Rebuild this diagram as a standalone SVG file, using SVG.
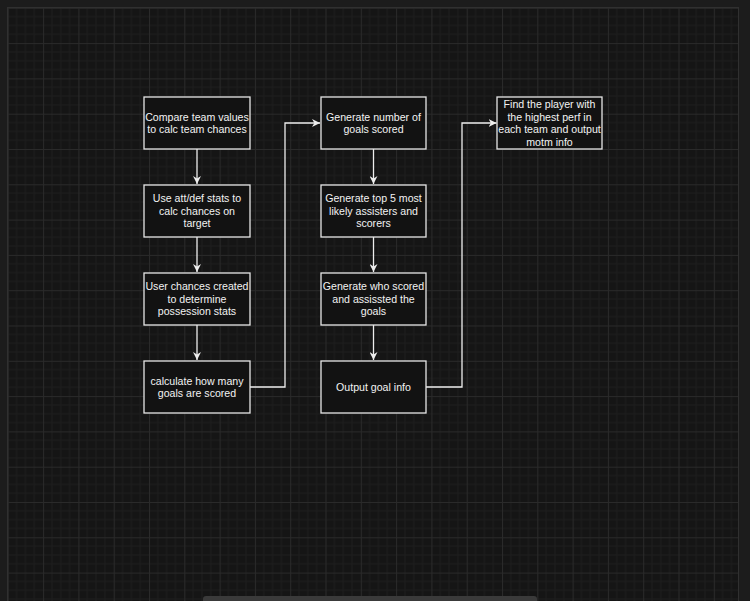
<svg xmlns="http://www.w3.org/2000/svg" width="750" height="601" viewBox="0 0 750 601">
  <style>
    .box { fill: #121212; stroke: #e6e6e6; stroke-width: 1.3; }
    .lbl { font-family: "Liberation Sans", Arial, Helvetica, sans-serif; font-size: 10.6px; fill: #f2f2f2; text-anchor: middle; }
    .edge { fill: none; stroke: #eeeeee; stroke-width: 1.3; }
  </style>
  <defs>
    <pattern id="grid" patternUnits="userSpaceOnUse" x="7.8" y="7.8" width="35.3" height="35.3">
      <rect width="35.3" height="35.3" fill="#151515"/>
      <path d="M8.825 0V35.3M17.65 0V35.3M26.475 0V35.3M0 8.825H35.3M0 17.65H35.3M0 26.475H35.3" stroke="#1e1e1e" stroke-width="1"/>
      <path d="M0.5 0V35.3M0 0.5H35.3" stroke="#2a2a2a" stroke-width="1"/>
    </pattern>
    <marker id="arrow" viewBox="0 0 10 10" refX="10" refY="5" markerUnits="userSpaceOnUse" markerWidth="8" markerHeight="8" orient="auto">
      <path d="M0 0L10 5L0 10L3 5Z" fill="#eeeeee"/>
    </marker>
  </defs>

  <!-- editor frame and canvas -->
  <rect x="0" y="0" width="750" height="601" fill="#1c1c1c"/>
  <rect x="7.5" y="7.5" width="731" height="600" fill="url(#grid)" stroke="#303030" stroke-width="1"/>
  <rect x="203" y="596" width="334" height="8" rx="3" fill="#3a3a3a"/>

  <!-- connectors -->
  <g id="connectors">
    <path class="edge" d="M197 149V184" marker-end="url(#arrow)"/>
    <path class="edge" d="M197 237V272" marker-end="url(#arrow)"/>
    <path class="edge" d="M197 325V360" marker-end="url(#arrow)"/>
    <path class="edge" d="M250 387H285V123H320" marker-end="url(#arrow)"/>
    <path class="edge" d="M373.5 149V184" marker-end="url(#arrow)"/>
    <path class="edge" d="M373.5 237V272" marker-end="url(#arrow)"/>
    <path class="edge" d="M373.5 325V360" marker-end="url(#arrow)"/>
    <path class="edge" d="M426 387H462V123H496.5" marker-end="url(#arrow)"/>
  </g>

  <!-- first column -->
  <g id="compare-values">
    <rect class="box" x="144" y="97" width="106" height="52"/>
    <text class="lbl" x="197" y="120.5">Compare team values</text>
    <text class="lbl" x="197" y="133">to calc team chances</text>
  </g>
  <g id="att-def-stats">
    <rect class="box" x="144" y="185" width="106" height="52"/>
    <text class="lbl" x="197" y="202.2">Use att/def stats to</text>
    <text class="lbl" x="197" y="214.7">calc chances on</text>
    <text class="lbl" x="197" y="227.2">target</text>
  </g>
  <g id="user-chances">
    <rect class="box" x="144" y="273" width="106" height="52"/>
    <text class="lbl" x="197" y="290.2">User chances created</text>
    <text class="lbl" x="197" y="302.7">to determine</text>
    <text class="lbl" x="197" y="315.2">possession stats</text>
  </g>
  <g id="goals-count">
    <rect class="box" x="144" y="361" width="106" height="52"/>
    <text class="lbl" x="197" y="384.5">calculate how many</text>
    <text class="lbl" x="197" y="397">goals are scored</text>
  </g>

  <!-- second column -->
  <g id="generate-goals">
    <rect class="box" x="321" y="97" width="105" height="52"/>
    <text class="lbl" x="373.5" y="120.5">Generate number of</text>
    <text class="lbl" x="373.5" y="133">goals scored</text>
  </g>
  <g id="top-five">
    <rect class="box" x="321" y="185" width="105" height="52"/>
    <text class="lbl" x="373.5" y="202.2">Generate top 5 most</text>
    <text class="lbl" x="373.5" y="214.7">likely assisters and</text>
    <text class="lbl" x="373.5" y="227.2">scorers</text>
  </g>
  <g id="who-scored">
    <rect class="box" x="321" y="273" width="105" height="52"/>
    <text class="lbl" x="373.5" y="290.2">Generate who scored</text>
    <text class="lbl" x="373.5" y="302.7">and assissted the</text>
    <text class="lbl" x="373.5" y="315.2">goals</text>
  </g>
  <g id="goal-info">
    <rect class="box" x="321" y="361" width="105" height="52"/>
    <text class="lbl" x="373.5" y="390.7">Output goal info</text>
  </g>

  <!-- third column -->
  <g id="motm">
    <rect class="box" x="497" y="97" width="105" height="52"/>
    <text class="lbl" x="549.5" y="108">Find the player with</text>
    <text class="lbl" x="549.5" y="120.5">the highest perf in</text>
    <text class="lbl" x="549.5" y="133">each team and output</text>
    <text class="lbl" x="549.5" y="145.5">motm info</text>
  </g>
</svg>
